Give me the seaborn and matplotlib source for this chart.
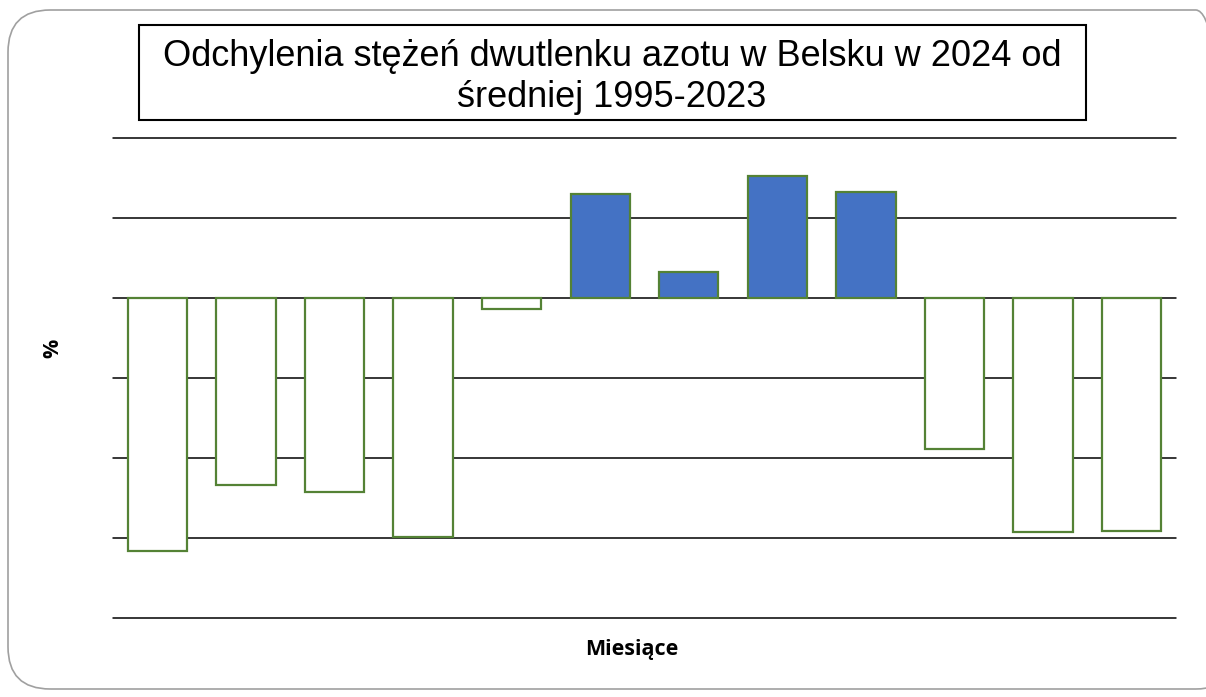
import numpy as np
import pandas as pd
import matplotlib
matplotlib.use("Agg")
import matplotlib.pyplot as plt
import seaborn as sns
from matplotlib.patches import FancyBboxPatch

# Data (deviation in %, 12 months)
months = ["I", "II", "III", "IV", "V", "VI", "VII", "VIII", "IX", "X", "XI", "XII"]
deviation = [-31.6, -23.4, -24.3, -29.9, -1.4, 13.0, 3.2, 15.2, 13.3, -18.9, -29.3, -29.1]
grid_levels = [-40, -30, -20, -10, 0, 10, 20]

title = "Odchylenia stężeń dwutlenku azotu w Belsku w 2024 od\nśredniej 1995-2023"

sns.set_theme(style="white")
plt.rcParams["font.family"] = ["Liberation Sans", "DejaVu Sans"]
plt.rcParams["text.color"] = "black"

df = pd.DataFrame({"month": months, "value": deviation})

fig = plt.figure(figsize=(12.06, 6.97), dpi=100)
ax = fig.add_axes([113 / 1206, 1 - 618 / 697, (1176 - 113) / 1206, (618 - 138) / 697])

sns.barplot(data=df, x="month", y="value", ax=ax, width=0.67,
            color="white", edgecolor="#548235", linewidth=1.6, zorder=3)

# positive months are filled blue
for bar, v in zip(ax.patches, deviation):
    if v > 0:
        bar.set_facecolor("#4472C4")

for g in grid_levels:
    ax.axhline(g, color="black", linewidth=1.1, zorder=1, clip_on=False)

ax.set_ylim(-40, 20)
ax.set_xlim(-0.5, 11.5)
ax.set_xticks([])
ax.set_yticks([])
for s in ax.spines.values():
    s.set_visible(False)
ax.set_xlabel("")
ax.set_ylabel("")

fig.text(632 / 1206, 1 - 649 / 697, "Miesiące", ha="center", va="center",
         fontsize=15.5, fontweight="bold", family=["Open Sans", "DejaVu Sans"])
fig.text(53 / 1206, 1 - 348 / 697, "%", ha="center", va="center", rotation=90,
         fontsize=15.5, fontweight="bold", family=["Open Sans", "DejaVu Sans"])

# title in a framed box
fig.patches.append(plt.Rectangle((139 / 1206, 1 - 120 / 697), (1086 - 139) / 1206, 95 / 697,
                                 transform=fig.transFigure, fill=False,
                                 edgecolor="black", linewidth=1.5))
fig.text(612 / 1206, 1 - 77 / 697, title, ha="center", va="center",
         fontsize=26, linespacing=1.24)

# rounded outer border of the chart area
fig.patches.append(FancyBboxPatch((8 / 1206, 1 - 689 / 697), 1230 / 1206, 679 / 697,
                                  boxstyle="round,pad=0,rounding_size=0.035",
                                  transform=fig.transFigure, fill=False,
                                  edgecolor="#a0a0a0", linewidth=1.2,
                                  mutation_aspect=1206 / 697))

fig.savefig("out.png", dpi=100)
